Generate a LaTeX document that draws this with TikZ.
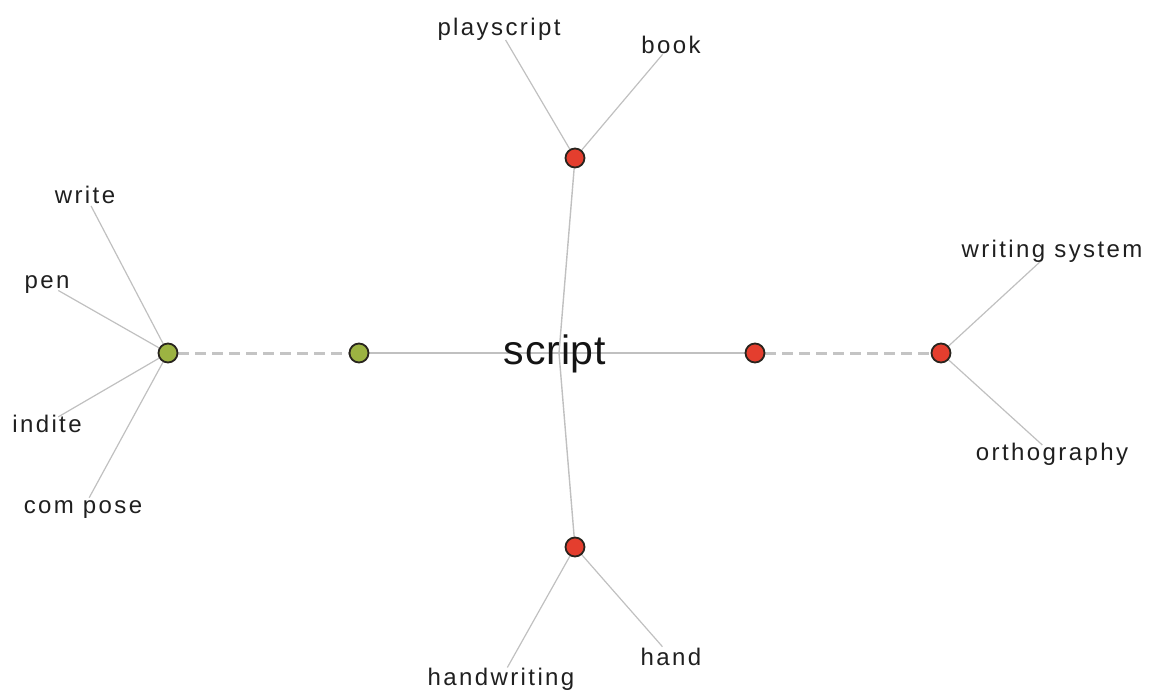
\documentclass[tikz,border=0pt]{standalone}
\usepackage{fontspec}
\setmainfont{Liberation Sans}
\newfontfamily\leaffont[LetterSpace=10]{Liberation Sans}
\newfontfamily\hubfont[LetterSpace=2]{Liberation Sans}
\usetikzlibrary{calc,backgrounds}
\definecolor{dotgreen}{RGB}{156,179,66}
\definecolor{dotred}{RGB}{228,62,46}
\definecolor{edgegray}{RGB}{192,192,192}
\definecolor{dashgray}{RGB}{196,196,196}
\definecolor{rimdark}{RGB}{40,36,30}
\tikzset{
  dot/.style={circle, draw=rimdark, line width=1.8pt, minimum size=19pt, inner sep=0pt},
  gdot/.style={dot, fill=dotgreen},
  rdot/.style={dot, fill=dotred},
  leaf/.style={anchor=base, inner sep=0pt, font=\leaffont\fontsize{24}{27}\selectfont, text=black!88},
  hub/.style={anchor=base, inner sep=0pt, font=\hubfont\fontsize{41}{46}\selectfont, text=black!92},
  edge/.style={draw=edgegray, line width=1.4pt},
  link/.style={draw=dashgray, line width=3pt, dash pattern=on 11pt off 6pt},
}
\begin{document}
\begin{tikzpicture}[x=1pt,y=-1pt]
  \useasboundingbox (0,0) rectangle (1152,691);
  % hub of the tree
  \coordinate (c) at (559,353);
  \node[hub] (script) at (555,364) {script};
  % sense nodes
  \node[gdot] (g1) at (168,353) {};
  \node[gdot] (g2) at (359,353) {};
  \node[rdot] (r1) at (755,353) {};
  \node[rdot] (r2) at (941,353) {};
  \node[rdot] (rt) at (575,158) {};
  \node[rdot] (rb) at (575,547) {};
  % word labels
  \node[leaf] (write) at (85,203) {write};
  \node[leaf] (pen) at (47,288) {pen};
  \node[leaf] (indite) at (47,432) {indite};
  \node[leaf] (compose) at (83,513) {com pose};
  \node[leaf] (playscript) at (499,35) {playscript};
  \node[leaf] (book) at (671,53) {book};
  \node[leaf] (handwriting) at (501,685) {handwriting};
  \node[leaf] (hand) at (671,665) {hand};
  \node[leaf] (wsys) at (1052,257) {writing system};
  \node[leaf] (ortho) at (1052,460) {orthography};
  \begin{pgfonlayer}{background}
    % trunk
    \draw[edge] (g2) -- (c) -- (r1);
    \draw[edge] (rt) -- (c) -- (rb);
    % dashed links between related senses
    \draw[link] (g1) -- (g2);
    \draw[link] (r1) -- (r2);
    % leaves
    \foreach \w/\d in {write/g1, pen/g1, indite/g1, compose/g1,
                       playscript/rt, book/rt, handwriting/rb, hand/rb,
                       wsys/r2, ortho/r2}
      \draw[edge, line width=1.2pt] (\d) -- ($(\w.center)!13pt!(\d)$);
  \end{pgfonlayer}
\end{tikzpicture}
\end{document}
